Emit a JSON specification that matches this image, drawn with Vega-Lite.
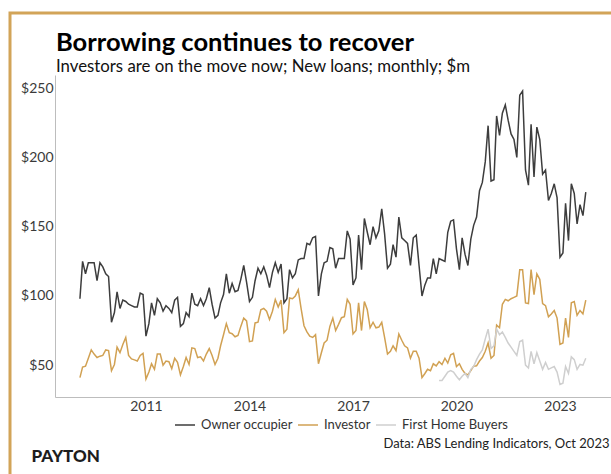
{
"$schema": "https://vega.github.io/schema/vega-lite/v6.json",
"usermeta": {"embedOptions": {"actions": false}},
"width": 604, "height": 464,
"autosize": {"type": "none"},
"padding": {"left": 10, "top": 13, "right": -3, "bottom": -3},
"background": "white",
"title": {"text": "Borrowing continues to recover", "subtitle": "Investors are on the move now; New loans; monthly; $m", "anchor": "start", "frame": "group", "orient": "top", "dx": 46, "offset": -63, "fontSize": 25.5, "font": "Lato", "fontWeight": "bold", "color": "#000000", "subtitleFont": "Lato", "subtitleFontSize": 16.8, "subtitleColor": "#111111", "subtitlePadding": 3},
"data": {"values": [
{"d":"2009-02","o":98,"i":41},{"d":"2009-03","o":125,"i":48.6},{"d":"2009-04","o":116,"i":49.3},{"d":"2009-05","o":124,"i":55},{"d":"2009-06","o":124,"i":61},{"d":"2009-07","o":124,"i":58},{"d":"2009-08","o":111,"i":55.5},{"d":"2009-09","o":124,"i":56.5},{"d":"2009-10","o":121,"i":57},{"d":"2009-11","o":116,"i":61},{"d":"2009-12","o":114,"i":60.5},
{"d":"2010-01","o":81,"i":46},{"d":"2010-02","o":88,"i":50.5},{"d":"2010-03","o":103,"i":63},{"d":"2010-04","o":91,"i":59},{"d":"2010-05","o":97,"i":65},{"d":"2010-06","o":96,"i":70},{"d":"2010-07","o":94,"i":57},{"d":"2010-08","o":93,"i":54.5},{"d":"2010-09","o":92,"i":53.8},{"d":"2010-10","o":92,"i":53},{"d":"2010-11","o":102,"i":57},{"d":"2010-12","o":101,"i":58.5},
{"d":"2011-01","o":71,"i":40},{"d":"2011-02","o":80,"i":45},{"d":"2011-03","o":95,"i":51},{"d":"2011-04","o":86,"i":47},{"d":"2011-05","o":98,"i":58},{"d":"2011-06","o":95,"i":58},{"d":"2011-07","o":89,"i":50},{"d":"2011-08","o":93,"i":53},{"d":"2011-09","o":91,"i":52.5},{"d":"2011-10","o":88,"i":47.5},{"d":"2011-11","o":97,"i":55},{"d":"2011-12","o":99,"i":52},
{"d":"2012-01","o":78,"i":43},{"d":"2012-02","o":80,"i":49},{"d":"2012-03","o":88,"i":55.5},{"d":"2012-04","o":85,"i":50.5},{"d":"2012-05","o":102,"i":62.5},{"d":"2012-06","o":94,"i":62},{"d":"2012-07","o":93,"i":55.5},{"d":"2012-08","o":98,"i":56},{"d":"2012-09","o":93,"i":53},{"d":"2012-10","o":98,"i":58},{"d":"2012-11","o":106,"i":62},{"d":"2012-12","o":94,"i":57},
{"d":"2013-01","o":84,"i":50.5},{"d":"2013-02","o":86,"i":55},{"d":"2013-03","o":95,"i":64},{"d":"2013-04","o":101,"i":72},{"d":"2013-05","o":116,"i":80},{"d":"2013-06","o":102,"i":73.5},{"d":"2013-07","o":109,"i":72.7},{"d":"2013-08","o":103,"i":70.5},{"d":"2013-09","o":104,"i":71.5},{"d":"2013-10","o":112,"i":78},{"d":"2013-11","o":122,"i":84},{"d":"2013-12","o":110,"i":82},
{"d":"2014-01","o":96,"i":67},{"d":"2014-02","o":99,"i":67.5},{"d":"2014-03","o":111,"i":80.5},{"d":"2014-04","o":120,"i":81},{"d":"2014-05","o":116,"i":90},{"d":"2014-06","o":121,"i":91},{"d":"2014-07","o":115,"i":89},{"d":"2014-08","o":106,"i":83},{"d":"2014-09","o":117,"i":89},{"d":"2014-10","o":124,"i":97.5},{"d":"2014-11","o":117,"i":92},{"d":"2014-12","o":123,"i":97},
{"d":"2015-01","o":95,"i":73.5},{"d":"2015-02","o":98,"i":76},{"d":"2015-03","o":119,"i":98.5},{"d":"2015-04","o":113,"i":98},{"d":"2015-05","o":116,"i":100},{"d":"2015-06","o":126,"i":104.5},{"d":"2015-07","o":127,"i":91},{"d":"2015-08","o":127,"i":78.5},{"d":"2015-09","o":138,"i":74},{"d":"2015-10","o":137,"i":71},{"d":"2015-11","o":142,"i":70},{"d":"2015-12","o":143,"i":72},
{"d":"2016-01","o":100,"i":51},{"d":"2016-02","o":116,"i":59},{"d":"2016-03","o":124,"i":66},{"d":"2016-04","o":125,"i":68},{"d":"2016-05","o":135,"i":78},{"d":"2016-06","o":134,"i":84},{"d":"2016-07","o":120,"i":75},{"d":"2016-08","o":127,"i":79.5},{"d":"2016-09","o":127,"i":84.3},{"d":"2016-10","o":127,"i":85},{"d":"2016-11","o":147,"i":97.5},{"d":"2016-12","o":141,"i":94},
{"d":"2017-01","o":108,"i":72.5},{"d":"2017-02","o":113,"i":75},{"d":"2017-03","o":144,"i":95},{"d":"2017-04","o":119,"i":75},{"d":"2017-05","o":156,"i":96},{"d":"2017-06","o":146,"i":90},{"d":"2017-07","o":137,"i":77},{"d":"2017-08","o":150,"i":81},{"d":"2017-09","o":142,"i":77},{"d":"2017-10","o":147,"i":77.5},{"d":"2017-11","o":163,"i":81},{"d":"2017-12","o":145,"i":70},
{"d":"2018-01","o":120,"i":58},{"d":"2018-02","o":123,"i":60},{"d":"2018-03","o":137,"i":64},{"d":"2018-04","o":128,"i":60.5},{"d":"2018-05","o":157,"i":72.5},{"d":"2018-06","o":142,"i":68},{"d":"2018-07","o":140,"i":64},{"d":"2018-08","o":138,"i":62.5},{"d":"2018-09","o":122,"i":55},{"d":"2018-10","o":142,"i":60},{"d":"2018-11","o":144,"i":60},{"d":"2018-12","o":122,"i":55},
{"d":"2019-01","o":100,"i":41},{"d":"2019-02","o":108,"i":44},{"d":"2019-03","o":113,"i":47},{"d":"2019-04","o":113,"i":46},{"d":"2019-05","o":127,"i":51},{"d":"2019-06","o":116,"i":49.5},{"d":"2019-07","o":127,"i":52.5,"f":39},{"d":"2019-08","o":126,"i":50.5,"f":39},{"d":"2019-09","o":125,"i":55,"f":42},{"d":"2019-10","o":146,"i":51.5,"f":45},{"d":"2019-11","o":154,"i":57.5,"f":46},{"d":"2019-12","o":155,"i":58.5,"f":45},
{"d":"2020-01","o":134,"i":49,"f":42},{"d":"2020-02","o":119,"i":51,"f":39.5},{"d":"2020-03","o":142,"i":47,"f":42},{"d":"2020-04","o":130,"i":44,"f":44},{"d":"2020-05","o":122,"i":43,"f":41},{"d":"2020-06","o":141,"i":46,"f":47},{"d":"2020-07","o":151,"i":49.3,"f":49},{"d":"2020-08","o":157,"i":49.5,"f":54},{"d":"2020-09","o":176,"i":53,"f":58},{"d":"2020-10","o":182,"i":55.5,"f":61},{"d":"2020-11","o":197,"i":60,"f":69},{"d":"2020-12","o":223,"i":66,"f":76},
{"d":"2021-01","o":183,"i":55,"f":62},{"d":"2021-02","o":184,"i":57,"f":64},{"d":"2021-03","o":230,"i":79,"f":76},{"d":"2021-04","o":216,"i":77,"f":72},{"d":"2021-05","o":232,"i":94,"f":74},{"d":"2021-06","o":238,"i":97.5,"f":70},{"d":"2021-07","o":227,"i":96.5,"f":66},{"d":"2021-08","o":217,"i":98,"f":63},{"d":"2021-09","o":213,"i":99,"f":60},{"d":"2021-10","o":200,"i":100,"f":57},{"d":"2021-11","o":245,"i":119,"f":67},{"d":"2021-12","o":248,"i":119,"f":68},
{"d":"2022-01","o":191,"i":95,"f":50},{"d":"2022-02","o":180,"i":94.5,"f":48},{"d":"2022-03","o":224,"i":119,"f":60},{"d":"2022-04","o":186,"i":101,"f":51},{"d":"2022-05","o":222,"i":116,"f":59},{"d":"2022-06","o":213,"i":112,"f":53},{"d":"2022-07","o":188,"i":94.5,"f":47},{"d":"2022-08","o":191,"i":93,"f":52},{"d":"2022-09","o":169,"i":85,"f":47},{"d":"2022-10","o":174,"i":87,"f":48},{"d":"2022-11","o":181,"i":89.5,"f":49},{"d":"2022-12","o":171,"i":84,"f":45},
{"d":"2023-01","o":128,"i":65,"f":36},{"d":"2023-02","o":131,"i":66,"f":37},{"d":"2023-03","o":167,"i":84,"f":49},{"d":"2023-04","o":140,"i":70,"f":44},{"d":"2023-05","o":181,"i":95,"f":56},{"d":"2023-06","o":174,"i":96,"f":54},{"d":"2023-07","o":152,"i":86,"f":47},{"d":"2023-08","o":166,"i":89.5,"f":50.5},{"d":"2023-09","o":158,"i":87,"f":50},{"d":"2023-10","o":175,"i":97,"f":55}
]},
"transform": [{"fold": ["o", "i", "f"], "as": ["s", "v"]}, {"filter": "isValid(datum.v)"}],
"mark": {"type": "line", "strokeWidth": 1.5},
"encoding": {
  "x": {"field": "d", "type": "temporal",
    "scale": {"domain": [{"year": 2008, "month": 5, "date": 13}, {"year": 2024, "month": 6, "date": 24}], "range": [45, 601]},
    "axis": {"values": [{"year": 2011}, {"year": 2014}, {"year": 2017}, {"year": 2020}, {"year": 2023}], "format": "%Y", "offset": -80, "ticks": false, "grid": false, "domainColor": "#BDBDBD", "domainWidth": 1, "labelFont": "Lato", "labelFontSize": 14, "labelColor": "#3a3a3a", "labelPadding": 2, "labelFlush": false,
      "title": "Data: ABS Lending Indicators, Oct 2023", "titleX": 599, "titleY": 50, "titleAlign": "right", "titleBaseline": "alphabetic", "titleFont": "Lato", "titleFontSize": 13, "titleFontWeight": "normal", "titleColor": "#222222"}},
  "y": {"field": "v", "type": "quantitative",
    "scale": {"domain": [27, 259.6], "range": [384, 62], "nice": false, "zero": false},
    "axis": {"values": [50, 100, 150, 200, 250], "labelExpr": "'$' + datum.value", "offset": -45, "ticks": false, "grid": false, "domainColor": "#BDBDBD", "domainWidth": 1, "labelFont": "Lato", "labelFontSize": 14, "labelColor": "#3a3a3a", "labelPadding": 2,
      "title": "PAYTON", "titleAngle": 0, "titleX": -24, "titleY": 448, "titleAlign": "left", "titleBaseline": "alphabetic", "titleFont": "Lato", "titleFontSize": 17, "titleFontWeight": 900, "titleColor": "#1d1d1d"}},
  "color": {"field": "s", "type": "nominal",
    "scale": {"domain": ["o", "i", "f"], "range": ["#3d3d3d", "#D1A153", "#CFCFCF"]},
    "legend": {"orient": "none", "legendX": 164, "legendY": 401, "direction": "horizontal", "title": null, "symbolType": "stroke", "symbolSize": 400, "symbolStrokeWidth": 1.5, "labelFont": "Lato", "labelFontSize": 13, "labelColor": "#333333", "columnPadding": 2, "labelOffset": 5,
      "labelExpr": "datum.label == 'o' ? 'Owner occupier' : datum.label == 'i' ? 'Investor' : 'First Home Buyers'"}}
},
"config": {"view": {"stroke": "#D2A458", "strokeWidth": 3}, "font": "Lato"}
}
